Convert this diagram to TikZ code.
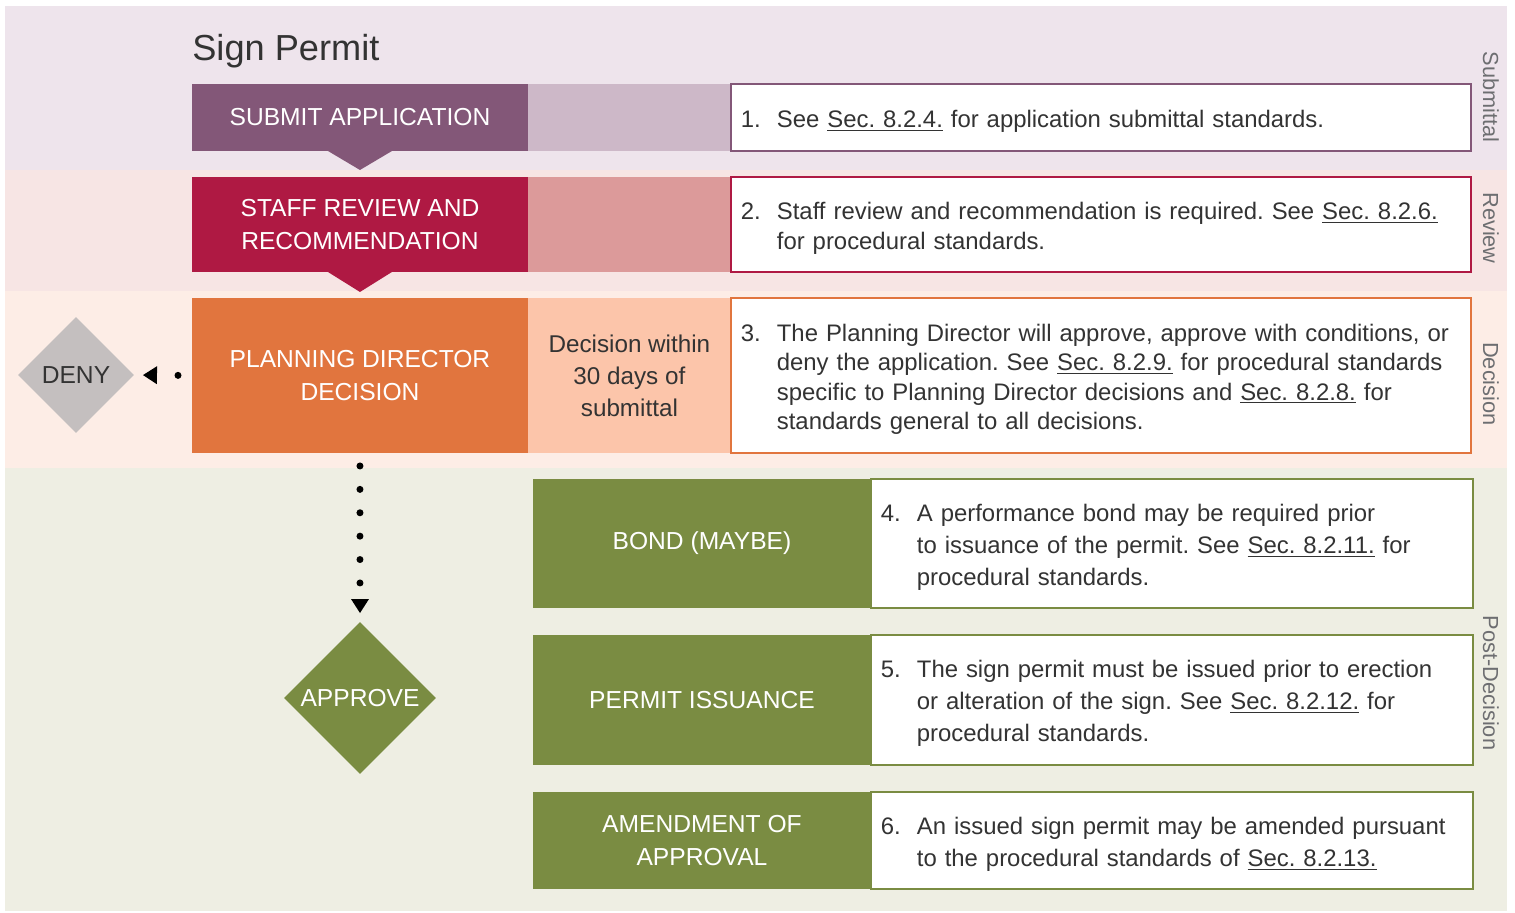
\documentclass[tikz,border=0pt]{standalone}
\usepackage{fontspec}
\setmainfont{Liberation Sans}
\usetikzlibrary{positioning,shapes.geometric,arrows.meta}
\frenchspacing

\definecolor{subcol}{HTML}{835778}
\definecolor{sublight}{HTML}{CDB8C8}
\definecolor{subband}{HTML}{EEE4EC}
\definecolor{revcol}{HTML}{AF1943}
\definecolor{revlight}{HTML}{DC9A9A}
\definecolor{revband}{HTML}{F7E5E4}
\definecolor{deccol}{HTML}{E1753E}
\definecolor{declight}{HTML}{FCC5AA}
\definecolor{decband}{HTML}{FDEDE6}
\definecolor{postcol}{HTML}{7A8C42}
\definecolor{postband}{HTML}{EEEEE3}
\definecolor{denycol}{HTML}{C4BFBF}
\definecolor{txt}{HTML}{333333}
\definecolor{sidetxt}{HTML}{6D6E71}

% numbered note with hanging indent
\newcommand{\notetext}[2]{\hangindent=0.72cm\hangafter=1
  \makebox[0.72cm][l]{\rule{0pt}{\dimexpr0.74em+0.14cm\relax}#1}#2\par}

\tikzset{
  stagebox/.style={fill=#1, text=white, minimum width=6.72cm, inner sep=0pt, outer sep=0pt,
    align=center, anchor=north west, font=\fontsize{14}{18.8}\selectfont},
  timebox/.style={fill=#1, text=txt, minimum width=4.06cm, inner sep=0pt, outer sep=0pt,
    align=center, font=\fontsize{13.8}{18.2}\selectfont},
  notebox/.style={draw=#1, fill=white, line width=1.1pt, minimum width=14.8cm, text width=14.4cm,
    inner xsep=0.2cm, inner ysep=0pt, outer sep=0pt, align=left, text=txt,
    font=\fontsize{13.6}{16.7}\selectfont},
  postnote/.style={minimum width=12.04cm, text width=11.64cm, inner xsep=0.2cm,
    font=\fontsize{13.6}{18.2}\selectfont},
  choice/.style={diamond, aspect=1, fill=#1, inner sep=0pt, outer sep=0pt,
    font=\fontsize{14}{16}\selectfont},
  dotline/.style={line width=0.14cm, line cap=round, dash pattern=on 0pt off 0.468cm,
    -{Triangle[length=0.28cm, width=0.36cm, line width=0pt]}},
  sidelabel/.style={rotate=-90, text=sidetxt, font=\fontsize{12.4}{14}\selectfont},
}

\begin{document}
\begin{tikzpicture}[x=0.02cm, y=-0.02cm]
  \useasboundingbox (0,0) rectangle (1515,913);
  \fill[white] (0,0) rectangle (1515,913);

  % phase bands
  \fill[subband] (5,6) rectangle (1507,170);
  \fill[revband] (5,170) rectangle (1507,291);
  \fill[decband] (5,291) rectangle (1507,468);
  \fill[postband] (5,468) rectangle (1507,911);

  \node[anchor=base west, inner sep=0pt, text=txt, font=\fontsize{20.6}{24}\selectfont] (title) at (192,60) {Sign Permit};

  % submittal
  \node[stagebox=subcol, minimum height=1.34cm] (submit) at (192,84) {SUBMIT APPLICATION};
  \node[timebox=sublight, minimum height=1.34cm, right=0pt of submit] (submitlight) {};
  \node[notebox=subcol, minimum height=1.34cm, right=0pt of submitlight] (submitnote)
    {\notetext{1.}{See \underline{Sec. 8.2.4.} for application submittal standards.}};
  \fill[subcol] ([xshift=-0.64cm]submit.south) -- ([xshift=0.64cm]submit.south)
    -- ([yshift=-0.38cm]submit.south) -- cycle;

  % review
  \node[stagebox=revcol, minimum height=1.9cm] (review) at (192,177) {STAFF REVIEW AND\\RECOMMENDATION};
  \node[timebox=revlight, minimum height=1.9cm, right=0pt of review] (reviewlight) {};
  \node[notebox=revcol, minimum height=1.9cm, right=0pt of reviewlight] (reviewnote)
    {\notetext{2.}{Staff review and recommendation is required. See \underline{Sec. 8.2.6.}\newline
     for procedural standards.}};
  \fill[revcol] ([xshift=-0.64cm]review.south) -- ([xshift=0.64cm]review.south)
    -- ([yshift=-0.4cm]review.south) -- cycle;

  % decision
  \node[stagebox=deccol, minimum height=3.1cm] (planning) at (192,298) {PLANNING DIRECTOR\\DECISION};
  \node[timebox=declight, minimum height=3.1cm, right=0pt of planning] (planninglight)
    {Decision within\\30 days of\\submittal};
  \node[notebox=deccol, minimum height=3.1cm, right=0pt of planninglight] (planningnote)
    {\notetext{3.}{The Planning Director will approve, approve with conditions, or\newline
     deny the application. See \underline{Sec. 8.2.9.} for procedural standards\newline
     specific to Planning Director decisions and \underline{Sec. 8.2.8.} for\newline
     standards general to all decisions.}};

  \node[choice=denycol, minimum size=2.32cm, text=txt] (deny) at (76,375) {DENY};
  \node[choice=postcol, minimum size=3.04cm, text=white] (approve) at (360,698) {APPROVE};

  \draw[dotline, shorten <=0.28cm, shorten >=0.18cm] (planning.west) -- (deny.east);
  \draw[dotline, shorten <=0.26cm, shorten >=0.18cm] (planning.south) -- (approve.north);

  % post-decision
  \node[stagebox=postcol, minimum width=6.76cm, minimum height=2.58cm] (bond) at (533,479) {BOND (MAYBE)};
  \node[notebox=postcol, postnote, minimum height=2.58cm, right=0pt of bond] (bondnote)
    {\notetext{4.}{A performance bond may be required prior\newline
     to issuance of the permit. See \underline{Sec. 8.2.11.} for\newline
     procedural standards.}};

  \node[stagebox=postcol, minimum width=6.76cm, minimum height=2.6cm] (issue) at (533,635) {PERMIT ISSUANCE};
  \node[notebox=postcol, postnote, minimum height=2.6cm, right=0pt of issue] (issuenote)
    {\notetext{5.}{The sign permit must be issued prior to erection\newline
     or alteration of the sign. See \underline{Sec. 8.2.12.} for\newline
     procedural standards.}};

  \node[stagebox=postcol, minimum width=6.76cm, minimum height=1.94cm] (amend) at (533,792) {AMENDMENT OF\\APPROVAL};
  \node[notebox=postcol, postnote, minimum height=1.94cm, right=0pt of amend] (amendnote)
    {\notetext{6.}{An issued sign permit may be amended pursuant\newline
     to the procedural standards of \underline{Sec. 8.2.13.}}};

  % phase labels
  \node[sidelabel] (subside) at (1491,97) {Submittal};
  \node[sidelabel] (revside) at (1491,228) {Review};
  \node[sidelabel] (decside) at (1491,384) {Decision};
  \node[sidelabel] (postside) at (1491,683) {Post-Decision};
\end{tikzpicture}
\end{document}
